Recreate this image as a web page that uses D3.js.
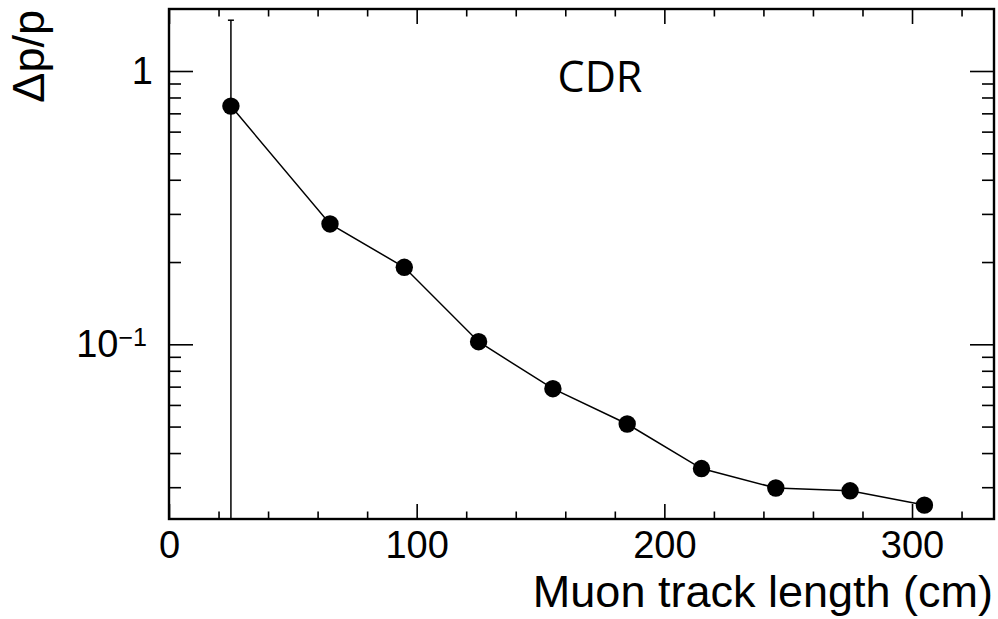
<!DOCTYPE html>
<html>
<head>
<meta charset="utf-8">
<script src="https://cdn.jsdelivr.net/npm/d3@7"></script>
<style>
  body { margin: 0; background: #fff; }
  svg { display: block; }
  .axis text { font-family: 'Liberation Sans', Arial, sans-serif; fill: #000; }
  .axis line { stroke: #000; stroke-width: 1.6px; }
  .axis .domain { display: none; }
</style>
</head>
<body>
<div id="chart"></div>
<script>
// track length bins (cm) and momentum resolution
const lengths = [25, 65, 95, 125, 155, 185, 215, 245, 275, 305];
const resolution = [0.744, 0.2756, 0.1913, 0.1022, 0.0688, 0.0511, 0.0351, 0.0298, 0.0291, 0.0258];
const errUp = [0.79, 0, 0, 0, 0, 0, 0, 0, 0, 0];
const errLow = [0.744, 0, 0, 0, 0, 0, 0, 0, 0, 0];

const xMajor = [0, 100, 200, 300];
const xMinor = d3.range(0, 334, 20).filter(v => v % 100 !== 0);
const yMajor = [0.1, 1];
const yMinor = [0.03, 0.04, 0.05, 0.06, 0.07, 0.08, 0.09, 0.2, 0.3, 0.4, 0.5, 0.6, 0.7, 0.8, 0.9];

const width = 998, height = 619;
const frame = { left: 169, right: 994, top: 9, bottom: 519 };

const svg = d3.select('#chart').append('svg')
    .attr('width', width)
    .attr('height', height);

const x = d3.scaleLinear().domain([0, 333.1]).range([frame.left, frame.right]);
const y = d3.scaleLog().domain([0.02295, 1.686]).range([frame.bottom, frame.top]);

// ticks, drawn inward on all four sides
svg.append('g').attr('class', 'axis')
    .attr('transform', `translate(0,${frame.bottom})`)
    .call(d3.axisBottom(x).tickValues(xMajor).tickSize(-15).tickPadding(12)
        .tickFormat(d3.format('d')))
    .selectAll('text').style('font-size', '38px');
svg.append('g').attr('class', 'axis')
    .attr('transform', `translate(0,${frame.bottom})`)
    .call(d3.axisBottom(x).tickValues(xMinor).tickSize(-7.5).tickFormat(''));
svg.append('g').attr('class', 'axis')
    .attr('transform', `translate(0,${frame.top})`)
    .call(d3.axisTop(x).tickValues(xMajor).tickSize(-15).tickFormat(''));
svg.append('g').attr('class', 'axis')
    .attr('transform', `translate(0,${frame.top})`)
    .call(d3.axisTop(x).tickValues(xMinor).tickSize(-7.5).tickFormat(''));

const yAxis = svg.append('g').attr('class', 'axis')
    .attr('transform', `translate(${frame.left},0)`)
    .call(d3.axisLeft(y).tickValues(yMajor).tickSize(-24).tickPadding(22).tickFormat(''));
yAxis.selectAll('.tick text').each(function (d) {
    const t = d3.select(this).style('font-size', '38px');
    if (d === 1) {
        t.attr('dx', 6).text('1');
    } else {
        t.append('tspan').text('10');
        t.append('tspan').attr('dy', '-0.45em').style('font-size', '25px').text('\u22121');
    }
});
svg.append('g').attr('class', 'axis')
    .attr('transform', `translate(${frame.left},0)`)
    .call(d3.axisLeft(y).tickValues(yMinor).tickSize(-12).tickFormat(''));
svg.append('g').attr('class', 'axis')
    .attr('transform', `translate(${frame.right},0)`)
    .call(d3.axisRight(y).tickValues(yMajor).tickSize(-24).tickFormat(''));
svg.append('g').attr('class', 'axis')
    .attr('transform', `translate(${frame.right},0)`)
    .call(d3.axisRight(y).tickValues(yMinor).tickSize(-12).tickFormat(''));

const points = lengths.map((v, i) => ({
    x: v, y: resolution[i], hi: resolution[i] + errUp[i], lo: resolution[i] - errLow[i]
}));

// error bars (clipped to frame)
const clampY = v => v <= y.domain()[0] ? frame.bottom : y(v);
const err = svg.append('g').selectAll('g')
    .data(points.filter(d => d.hi > d.y || d.lo < d.y))
    .enter().append('g');
err.append('line')
    .attr('x1', d => x(d.x)).attr('x2', d => x(d.x))
    .attr('y1', d => clampY(d.hi)).attr('y2', d => clampY(d.lo))
    .attr('stroke', '#000').attr('stroke-width', 1.5);
err.append('line')
    .attr('x1', d => x(d.x) - 3).attr('x2', d => x(d.x) + 3)
    .attr('y1', d => clampY(d.hi)).attr('y2', d => clampY(d.hi))
    .attr('stroke', '#000').attr('stroke-width', 1.5);

svg.append('path')
    .datum(points)
    .attr('fill', 'none')
    .attr('stroke', '#000')
    .attr('stroke-width', 1.5)
    .attr('d', d3.line().x(d => x(d.x)).y(d => y(d.y)));

svg.append('g').selectAll('circle')
    .data(points)
    .enter().append('circle')
    .attr('cx', d => x(d.x))
    .attr('cy', d => y(d.y))
    .attr('r', 8.7)
    .attr('fill', '#000');

// frame
svg.append('rect')
    .attr('x', frame.left).attr('y', frame.top)
    .attr('width', frame.right - frame.left).attr('height', frame.bottom - frame.top)
    .attr('fill', 'none').attr('stroke', '#000').attr('stroke-width', 2.4);

svg.append('text')
    .attr('x', 993).attr('y', 607)
    .attr('text-anchor', 'end')
    .style('font-family', "'Liberation Sans', Arial, sans-serif")
    .style('font-size', '45px')
    .text('Muon track length (cm)');

svg.append('text')
    .attr('transform', 'translate(44,10) rotate(-90)')
    .attr('text-anchor', 'end')
    .style('font-family', "'Liberation Sans', Arial, sans-serif")
    .style('font-size', '45px')
    .text('\u0394p/p');

svg.append('text')
    .attr('x', 600).attr('y', 92)
    .attr('text-anchor', 'middle')
    .style('font-family', "'Open Sans', sans-serif")
    .style('font-size', '43px')
    .text('CDR');
</script>
</body>
</html>
